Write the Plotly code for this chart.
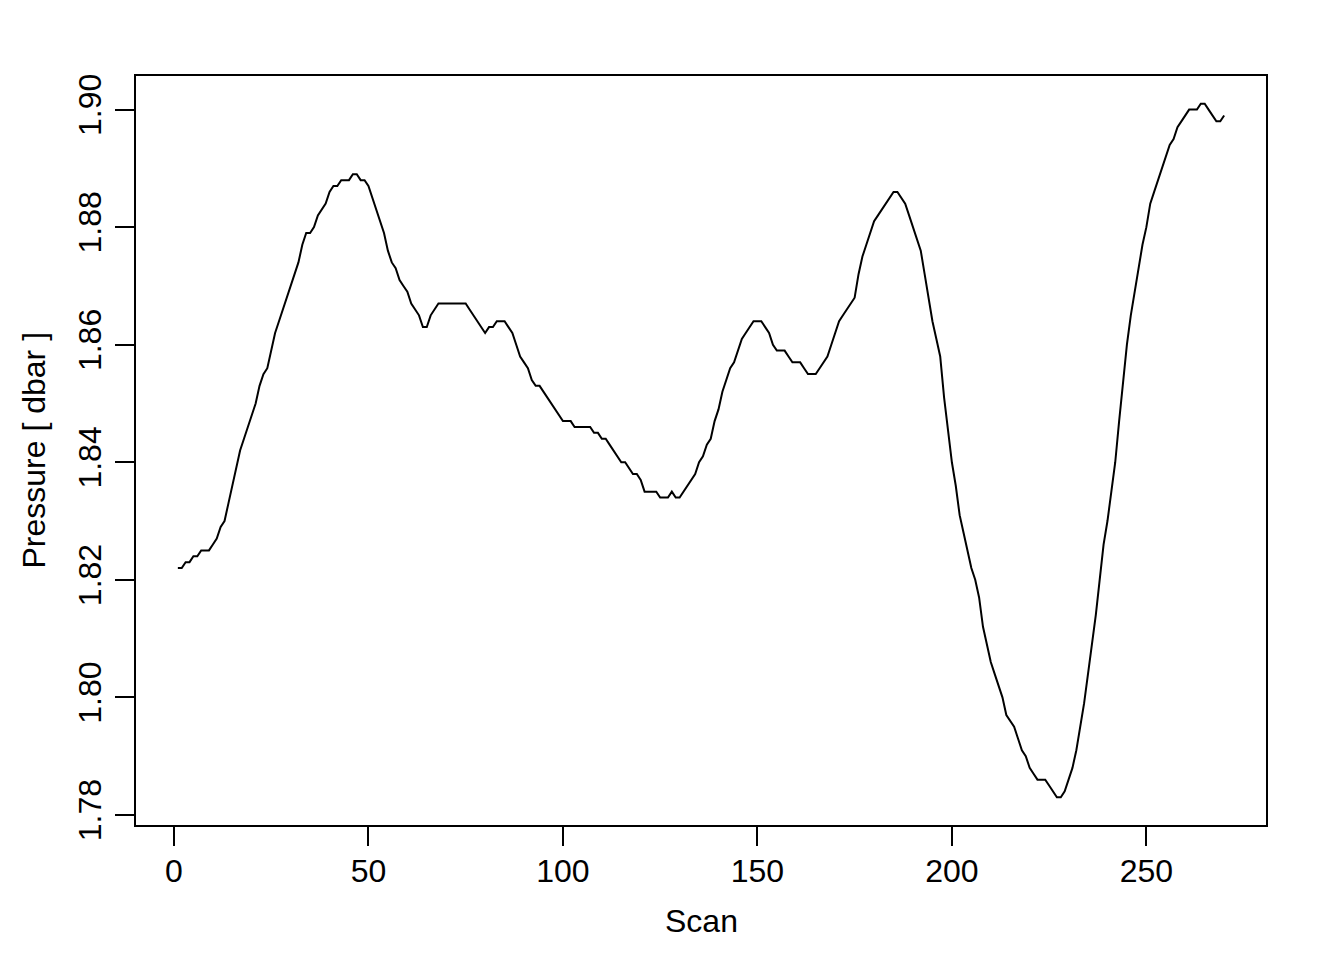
import plotly.graph_objects as go

# Scan numbers and pressure values (dbar)
scan = list(range(1, 271))
pressure = [
    1.822, 1.822, 1.823, 1.823, 1.824, 1.824, 1.825, 1.825, 1.825, 1.826,
    1.827, 1.829, 1.830, 1.833, 1.836, 1.839, 1.842, 1.844, 1.846, 1.848,
    1.850, 1.853, 1.855, 1.856, 1.859, 1.862, 1.864, 1.866, 1.868, 1.870,
    1.872, 1.874, 1.877, 1.879, 1.879, 1.880, 1.882, 1.883, 1.884, 1.886,
    1.887, 1.887, 1.888, 1.888, 1.888, 1.889, 1.889, 1.888, 1.888, 1.887,
    1.885, 1.883, 1.881, 1.879, 1.876, 1.874, 1.873, 1.871, 1.870, 1.869,
    1.867, 1.866, 1.865, 1.863, 1.863, 1.865, 1.866, 1.867, 1.867, 1.867,
    1.867, 1.867, 1.867, 1.867, 1.867, 1.866, 1.865, 1.864, 1.863, 1.862,
    1.863, 1.863, 1.864, 1.864, 1.864, 1.863, 1.862, 1.860, 1.858, 1.857,
    1.856, 1.854, 1.853, 1.853, 1.852, 1.851, 1.850, 1.849, 1.848, 1.847,
    1.847, 1.847, 1.846, 1.846, 1.846, 1.846, 1.846, 1.845, 1.845, 1.844,
    1.844, 1.843, 1.842, 1.841, 1.840, 1.840, 1.839, 1.838, 1.838, 1.837,
    1.835, 1.835, 1.835, 1.835, 1.834, 1.834, 1.834, 1.835, 1.834, 1.834,
    1.835, 1.836, 1.837, 1.838, 1.840, 1.841, 1.843, 1.844, 1.847, 1.849,
    1.852, 1.854, 1.856, 1.857, 1.859, 1.861, 1.862, 1.863, 1.864, 1.864,
    1.864, 1.863, 1.862, 1.860, 1.859, 1.859, 1.859, 1.858, 1.857, 1.857,
    1.857, 1.856, 1.855, 1.855, 1.855, 1.856, 1.857, 1.858, 1.860, 1.862,
    1.864, 1.865, 1.866, 1.867, 1.868, 1.872, 1.875, 1.877, 1.879, 1.881,
    1.882, 1.883, 1.884, 1.885, 1.886, 1.886, 1.885, 1.884, 1.882, 1.880,
    1.878, 1.876, 1.872, 1.868, 1.864, 1.861, 1.858, 1.851, 1.845, 1.840,
    1.836, 1.831, 1.828, 1.825, 1.822, 1.820, 1.817, 1.812, 1.809, 1.806,
    1.804, 1.802, 1.800, 1.797, 1.796, 1.795, 1.793, 1.791, 1.790, 1.788,
    1.787, 1.786, 1.786, 1.786, 1.785, 1.784, 1.783, 1.783, 1.784, 1.786,
    1.788, 1.791, 1.795, 1.799, 1.804, 1.809, 1.814, 1.820, 1.826, 1.830,
    1.835, 1.840, 1.847, 1.854, 1.860, 1.865, 1.869, 1.873, 1.877, 1.880,
    1.884, 1.886, 1.888, 1.890, 1.892, 1.894, 1.895, 1.897, 1.898, 1.899,
    1.900, 1.900, 1.900, 1.901, 1.901, 1.900, 1.899, 1.898, 1.898, 1.899,
]
assert len(pressure) == len(scan)

x_ticks = [0, 50, 100, 150, 200, 250]
y_ticks = [1.78, 1.80, 1.82, 1.84, 1.86, 1.88, 1.90]
y_tick_labels = ["1.78", "1.80", "1.82", "1.84", "1.86", "1.88", "1.90"]
x_title = "Scan"
y_title = "Pressure [ dbar ]"

FONT = "Liberation Sans, Arial, Helvetica, sans-serif"

# R-style 4% axis padding
def padded(vals):
    lo, hi = min(vals), max(vals)
    d = (hi - lo) * 0.04
    return [lo - d, hi + d]

fig = go.Figure()
fig.add_trace(go.Scatter(
    x=scan, y=pressure, mode="lines",
    line=dict(color="black", width=2),
    showlegend=False, hoverinfo="skip",
))

axis_common = dict(
    showgrid=False, zeroline=False,
    showline=True, mirror=True, linecolor="black", linewidth=2,
    ticks="outside", ticklen=19, tickwidth=2, tickcolor="black",
    tickfont=dict(family=FONT, size=32, color="black"),
)

fig.update_layout(
    width=1344, height=960,
    margin=dict(l=128, r=86, t=68, b=143),
    paper_bgcolor="white", plot_bgcolor="white",
    font=dict(family=FONT, size=32, color="black"),
    xaxis=dict(range=padded(scan), tickmode="array", tickvals=x_ticks,
               ticktext=[str(v) for v in x_ticks], ticklabelstandoff=-2,
               **axis_common),
    yaxis=dict(range=padded(pressure), tickmode="array", tickvals=y_ticks,
               ticktext=y_tick_labels, tickangle=-90, ticklabelstandoff=1,
               **axis_common),
    annotations=[
        dict(text=x_title, xref="paper", yref="paper", x=0.5, y=0,
             xanchor="center", yanchor="middle", yshift=-96, showarrow=False,
             font=dict(family=FONT, size=32, color="black")),
        dict(text=y_title, xref="paper", yref="paper", x=0, y=0.5,
             xanchor="center", yanchor="middle", xshift=-103, textangle=-90,
             showarrow=False, font=dict(family=FONT, size=32, color="black")),
    ],
)

fig.write_html("out.html")
